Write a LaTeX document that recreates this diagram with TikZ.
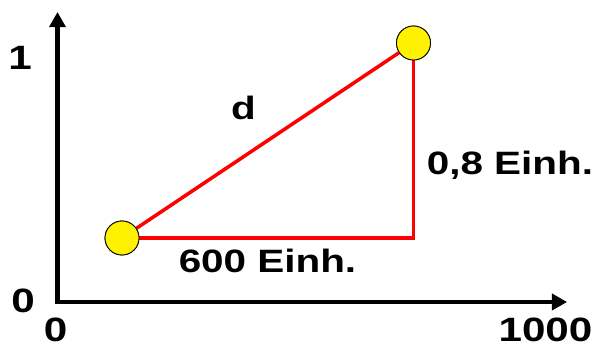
\documentclass[tikz,border=0pt]{standalone}
\usepackage{fontspec}
\setmainfont{Liberation Sans}
\usepackage{graphicx}
\usetikzlibrary{arrows.meta}
\newcommand{\widetext}[1]{\scalebox{1.25}[1]{#1}}
\tikzset{
  axis/.style={line width=3.2pt, {Triangle[length=0.38cm, width=0.4cm]}-{Triangle[length=0.38cm, width=0.4cm]}},
  side/.style={draw=red, line width=2.5pt},
  dot/.style={circle, draw=black, fill=yellow, minimum size=0.85cm, inner sep=0pt, line width=0.6pt},
  lbl/.style={font=\bfseries\fontsize{23}{27}\selectfont, anchor=base, inner sep=0pt},
  tick/.style={lbl, font=\bfseries\fontsize{24}{28}\selectfont}
}

\begin{document}
\begin{tikzpicture}
  \useasboundingbox (-1.4375,-1.175) rectangle (13.4625,7.55);
  \coordinate (o) at (0,0);
  \coordinate (ytop) at (0,7.25);
  \coordinate (xend) at (12.74,0);
  \coordinate (corner) at (8.9,1.6);
  % axes
  \draw[axis] (ytop) -- (o) -- (xend);
  \node[tick] (y1) at (-0.9375,5.8) {\widetext{1}};
  \node[tick] (y0) at (-0.8625,-0.2625) {\widetext{0}};
  \node[tick] (x0) at (-0.05,-1.0) {\widetext{0}};
  \node[tick] (x1000) at (12.2,-1.0) {\widetext{1000}};
  % triangle
  \node[dot] (p) at (1.6125,1.6) {};
  \node[dot] (q) at (8.9,6.475) {};
  \draw[side] (p) -- (q);
  \draw[side] (p) -- (corner) -- (q);
  \node[dot] at (p) {};
  \node[dot] at (q) {};
  \node[lbl] (d) at (4.65,4.55) {\widetext{d}};
  \node[lbl] (dx) at (5.25,0.725) {\widetext{600 Einh.}};
  \node[lbl] (dy) at (11.31,3.175) {\widetext{0,8 Einh.}};
\end{tikzpicture}
\end{document}
